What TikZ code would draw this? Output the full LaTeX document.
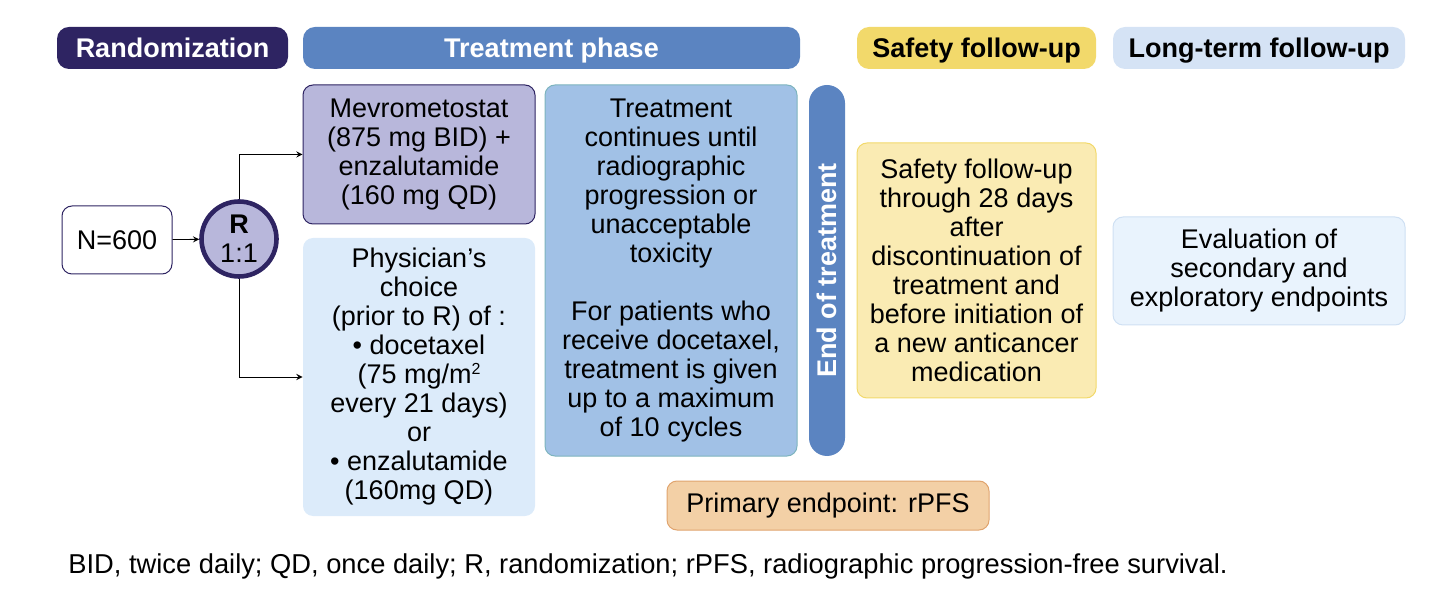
\documentclass[tikz,border=0pt]{standalone}
\usepackage{fontspec}
\setmainfont{Liberation Sans}
\usepackage{tikz}

\definecolor{navy}{HTML}{2E2462}
\definecolor{phaseblue}{HTML}{5B84C1}
\definecolor{safeyellow}{HTML}{F2D96B}
\definecolor{longblue}{HTML}{D5E3F5}
\definecolor{lavender}{HTML}{B8B7DB}
\definecolor{choiceblue}{HTML}{DCEBFA}
\definecolor{contblue}{HTML}{A1C1E6}
\definecolor{contedge}{HTML}{7DB4BE}
\definecolor{safefill}{HTML}{FAEBB3}
\definecolor{evalfill}{HTML}{E9F3FD}
\definecolor{evaledge}{HTML}{CFE0F3}
\definecolor{primfill}{HTML}{F3D0A6}
\definecolor{primedge}{HTML}{E0A46E}

\begin{document}
\begin{tikzpicture}[x=0.5pt, y=-0.5pt, >=stealth,
  font=\fontsize{13.5}{14.5}\selectfont,
  header/.style={rounded corners=6pt, inner sep=0pt, minimum height=21pt, text height=9.7pt, text depth=0pt, font=\fontsize{13.5}{14.5}\selectfont\bfseries},
  box/.style={rounded corners=5pt, inner sep=0pt, align=center, line width=0.5pt}]
  \useasboundingbox (0,0) rectangle (1438,592);

  \node[header, fill=navy, text=white, minimum width=115.5pt] (hrand) at (172.5,48) {Randomization};
  \node[header, fill=phaseblue, text=white, minimum width=248.5pt] (htreat) at (551.5,48) {Treatment phase};
  \node[header, fill=safeyellow, minimum width=119.5pt] (hsafe) at (976.5,48) {Safety follow-up};
  \node[header, fill=longblue, minimum width=146pt] (hlong) at (1259,48) {Long-term follow-up};

  \node[box, draw=navy, fill=white, minimum width=55pt, minimum height=34pt] (npat) at (117,240) {N=600};
  \node[circle, draw=navy, line width=2.3pt, fill=lavender, inner sep=0pt, minimum size=37.5pt, align=center] (rand) at (239,239) {\textbf{R}\\1:1};

  \node[box, draw=navy, fill=lavender, minimum width=116pt, minimum height=69.5pt] (armA) at (419,154.5)
    {Mevrometostat\\(875 mg BID) +\\enzalutamide\\(160 mg QD)};
  \node[box, fill=choiceblue, minimum width=116pt, minimum height=139pt] (armB) at (419,377)
    {Physician’s\\choice\\(prior to R) of :\\• docetaxel\\(75 mg/m{\fontsize{8}{8}\selectfont\raisebox{4.5pt}{2}}\\every 21 days)\\or\\• enzalutamide\\(160mg QD)};

  \node[box, draw=contedge, fill=contblue, minimum width=126pt, minimum height=185.5pt] (cont) at (671,270.5)
    {Treatment\\continues until\\radiographic\\progression or\\unacceptable\\toxicity\\[14.5pt]For patients who\\receive docetaxel,\\treatment is given\\up to a maximum\\of 10 cycles};
  \node[rounded corners=9pt, fill=phaseblue, text=white, inner sep=0pt, rotate=90, minimum width=185.5pt, minimum height=18pt, font=\fontsize{13.5}{14.5}\selectfont\bfseries] (eot) at (827,270.5) {End of treatment};

  \node[box, draw=safeyellow, fill=safefill, minimum width=119.5pt, minimum height=127.5pt] (safe) at (976.5,270.5)
    {Safety follow-up\\through 28 days\\after\\discontinuation of\\treatment and\\before initiation of\\a new anticancer\\medication};
  \node[box, draw=evaledge, fill=evalfill, minimum width=146pt, minimum height=54pt] (evalb) at (1259,271)
    {Evaluation of\\secondary and\\exploratory endpoints};

  \node[box, draw=primedge, fill=primfill, minimum width=161pt, minimum height=24.5pt] (prim) at (828,505.5) {Primary endpoint: rPFS};

  \node[anchor=west, inner sep=0pt, font=\fontsize{13.65}{14.5}\selectfont] (foot) at (68,566) {BID, twice daily; QD, once daily; R, randomization; rPFS, radiographic progression-free survival.};

  \draw[->] (npat) -- (rand);
  \draw[->] (rand.north) |- (armA.west);
  \draw[->] (rand.south) |- (armB.west);
\end{tikzpicture}
\end{document}
